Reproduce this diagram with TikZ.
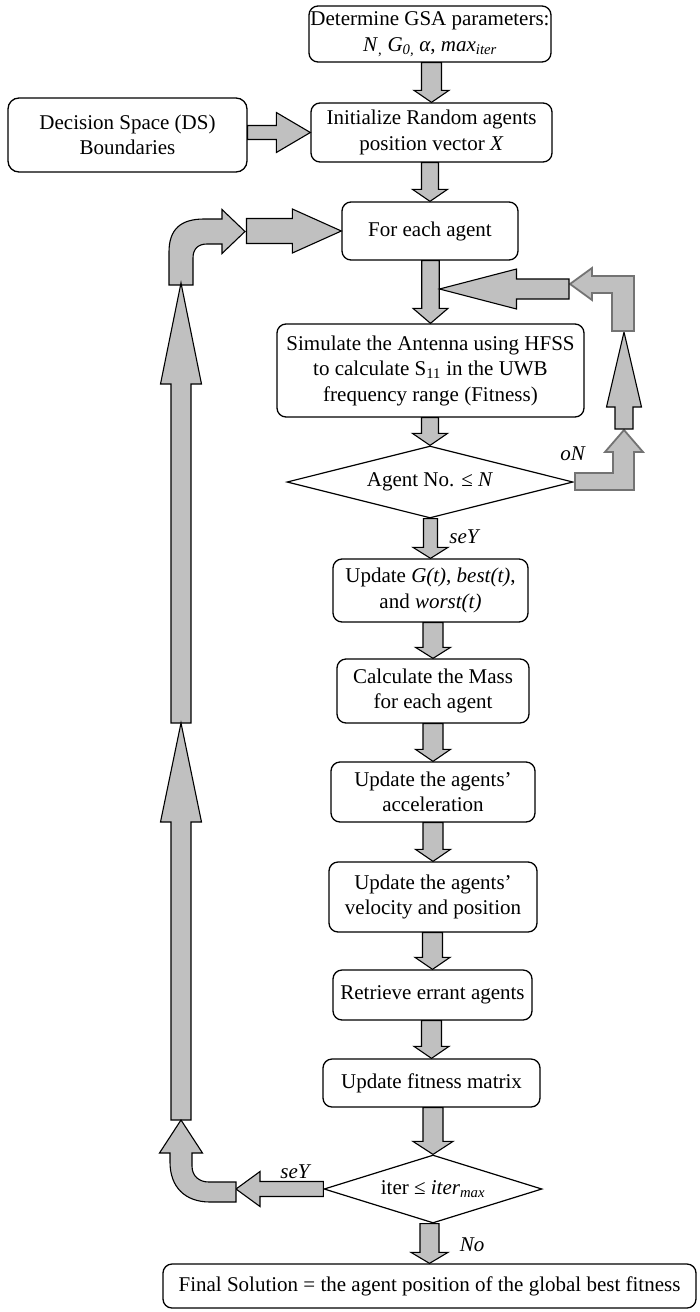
\documentclass[tikz,border=0pt]{standalone}
\usepackage{fontspec}
\setmainfont{Liberation Serif}
\usetikzlibrary{shapes.geometric,calc}
\definecolor{silv}{RGB}{192,192,192}
\newcommand\fsz{\fontsize{21}{25.5}\selectfont}
% block arrows: #1 start, #2 tip, #3 shaft half width, #4 head half width, #5 head length
\newcommand\arrD[5]{\draw[blk] let \p1=(#1),\p2=(#2) in (\x2-#3pt,\y1) -- (\x2+#3pt,\y1) -- (\x2+#3pt,\y2+#5pt) -- (\x2+#4pt,\y2+#5pt) -- (\x2,\y2) -- (\x2-#4pt,\y2+#5pt) -- (\x2-#3pt,\y2+#5pt) -- cycle;}
\newcommand\arrU[5]{\draw[blk] let \p1=(#1),\p2=(#2) in (\x2-#3pt,\y1) -- (\x2+#3pt,\y1) -- (\x2+#3pt,\y2-#5pt) -- (\x2+#4pt,\y2-#5pt) -- (\x2,\y2) -- (\x2-#4pt,\y2-#5pt) -- (\x2-#3pt,\y2-#5pt) -- cycle;}
\newcommand\arrR[5]{\draw[blk] let \p1=(#1),\p2=(#2) in (\x1,\y2-#3pt) -- (\x1,\y2+#3pt) -- (\x2-#5pt,\y2+#3pt) -- (\x2-#5pt,\y2+#4pt) -- (\x2,\y2) -- (\x2-#5pt,\y2-#4pt) -- (\x2-#5pt,\y2-#3pt) -- cycle;}
\newcommand\arrL[5]{\draw[blk] let \p1=(#1),\p2=(#2) in (\x1,\y2-#3pt) -- (\x1,\y2+#3pt) -- (\x2+#5pt,\y2+#3pt) -- (\x2+#5pt,\y2+#4pt) -- (\x2,\y2) -- (\x2+#5pt,\y2-#4pt) -- (\x2+#5pt,\y2-#3pt) -- cycle;}
\begin{document}
\begin{tikzpicture}[x=1pt,y=1pt,
  box/.style={draw, line width=1.3pt, rounded corners=9pt, fill=white, align=center, inner sep=0pt, font=\fsz},
  dia/.style={draw, line width=1.2pt, shape=diamond, fill=white, inner sep=0pt, aspect=3.5, font=\fsz},
  blk/.style={draw, line width=1.1pt, fill=silv, line join=miter},
  blur/.style={draw=black!55, line width=1.8pt, fill=silv, line join=miter},
  lab/.style={font=\fsz\itshape, inner sep=0pt}]
\useasboundingbox (0,0) rectangle (699,-1312);

% nodes
\node[box, minimum width=242, minimum height=56] (det) at (430,-34)
  {Determine GSA parameters:\\ \textit{N}\textsubscript{,} \textit{G}\textsubscript{\textit{0,}} \textit{α}, \textit{max}\textsubscript{\textit{iter}}};
\node[box, minimum width=241, minimum height=59] (init) at (431.5,-132.5)
  {Initialize Random agents\\ position vector \textit{X}};
\node[box, rounded corners=11pt, minimum width=239, minimum height=74] (ds) at (127.5,-135)
  {Decision Space (DS)\\ Boundaries};
\node[box, minimum width=176, minimum height=58] (foreach) at (430,-231) {For each agent};
\node[box, minimum width=307, minimum height=93] (sim) at (430.5,-370.5)
  {Simulate the Antenna using HFSS\\ to calculate S\textsubscript{11} in the UWB\\ frequency range (Fitness)};
\node[dia, minimum width=286, minimum height=72] (d1) at (430,-482) {Agent No. ≤ \textit{N}};
\node[box, minimum width=195, minimum height=63] (updg) at (430.5,-590.5)
  {Update \textit{G(t)}, \textit{best(t)},\\ and \textit{worst(t)}};
\node[box, minimum width=192, minimum height=64] (mass) at (433,-691)
  {Calculate the Mass\\ for each agent};
\node[box, minimum width=204, minimum height=60] (acc) at (433,-792)
  {Update the agents’\\ acceleration};
\node[box, minimum width=208, minimum height=70] (vel) at (433,-897)
  {Update the agents’\\ velocity and position};
\node[box, minimum width=199, minimum height=50] (ret) at (432.5,-995) {Retrieve errant agents};
\node[box, minimum width=217, minimum height=48] (fit) at (431.5,-1083) {Update fitness matrix};
\node[dia, minimum width=218, minimum height=68] (d2) at (433,-1189)
  {iter ≤ \textit{iter}\textsubscript{\textit{max}}};
\node[box, minimum width=533, minimum height=44] (final) at (429.5,-1286)
  {Final Solution = the agent position of the global best fitness};

% main column arrows
\arrD{det.south}{init.north}{10}{17.5}{12}
\arrD{init.south}{foreach.north}{8.5}{17.5}{12}
\arrD{foreach.south}{sim.north}{8.75}{17.5}{15}
\arrD{sim.south}{d1.north}{8.5}{17.5}{12}
\arrD{d1.south}{updg.north}{7}{17.5}{11}
\arrD{updg.south}{mass.north}{10}{17.5}{11}
\arrD{mass.south}{acc.north}{10}{17.5}{12}
\arrD{acc.south}{vel.north}{10}{17.5}{12}
\arrD{vel.south}{ret.north}{10}{17.5}{12}
\arrD{ret.south}{fit.north}{10}{17.5}{12}
\arrD{fit.south}{d2.north}{10}{20}{13}
\arrD{d2.south}{final.north}{9.5}{18.5}{11}

% DS -> init
\arrR{ds.east}{init.west}{7}{20}{34}

% left loop
\coordinate (lr) at (246.5,-231);
\arrR{lr}{foreach.west}{12.5}{22}{49}
\draw[blk] (169,-285) -- (169,-252) .. controls (169,-229) and (181,-219) .. (204,-219) -- (222,-219) -- (222,-209.5) -- (245,-231.5) -- (222,-253.5) -- (222,-244) -- (207,-244) .. controls (198,-244) and (193,-249) .. (193,-258) -- (193,-285) -- cycle;
\coordinate (u1s) at (181,-723);
\coordinate (u1t) at (181,-283);
\arrU{u1s}{u1t}{10}{20.5}{101}
\coordinate (u2s) at (181,-1120);
\coordinate (u2t) at (181,-723);
\arrU{u2s}{u2t}{10}{20.5}{99}
\coordinate (yt) at (236,-1189);
\arrL{d2.west}{yt}{7.5}{17.5}{24}
\draw[blk] (236,-1182) -- (209,-1182) .. controls (199,-1182) and (192,-1176) .. (192,-1166) -- (192,-1153) -- (202.5,-1153) -- (181,-1120) -- (159.5,-1153) -- (170,-1153) -- (170,-1162) .. controls (170,-1187) and (185,-1202) .. (210,-1202) -- (236,-1202) -- cycle;

% right loop
\draw[blur] (575,-473) -- (613,-473) -- (613,-452) -- (605,-452) -- (624,-430) -- (643,-452) -- (634,-452) -- (634,-490) -- (575,-490) -- cycle;
\coordinate (r1s) at (624,-429);
\coordinate (r1t) at (624,-332);
\arrU{r1s}{r1t}{9}{17.5}{75}
\draw[blur] (612,-331) -- (612,-293) -- (592,-293) -- (592,-300) -- (570,-284) -- (592,-268) -- (592,-276) -- (634,-276) -- (634,-331) -- cycle;
\coordinate (ls) at (569,-289);
\coordinate (lt) at (439.5,-289);
\arrL{ls}{lt}{10}{20}{77}

% labels
\node[lab] (l1) at (464,-537) {seY};
\node[lab] (l2) at (572.5,-454) {oN};
\node[lab] (l3) at (295,-1172) {seY};
\node[lab] (l4) at (472,-1245) {No};
\end{tikzpicture}
\end{document}
